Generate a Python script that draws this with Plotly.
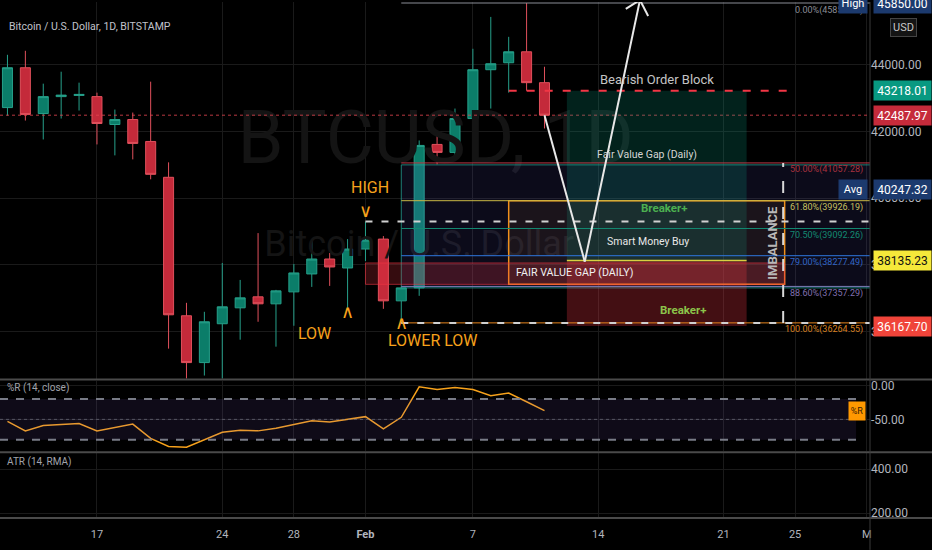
import pandas as pd
import plotly.graph_objects as go
from plotly.subplots import make_subplots

# ---------- datos ----------

fechas = pd.date_range("2022-01-12", "2022-02-11", freq="D")

aperturas = [42716, 43910, 42537, 43045, 43080, 43045, 42209, 42358, 41701, 40627,
             36478, 35075, 36239, 36716, 37045, 36836, 37194, 37731, 38179, 37910,
             38478, 38776, 36925, 37313, 41612, 41373, 42388, 43851, 44060, 44388,
             43463]
maximos = [44298, 44418, 43433, 43791, 43463, 43164, 42657, 42567, 43493, 41075,
           36866, 36597, 38060, 37552, 38955, 37254, 38030, 38746, 38358, 38776,
           39300, 38866, 37343, 41731, 41940, 42687, 44478, 45433, 44836, 45850,
           43940]
minimos = [42478, 42328, 41761, 42388, 42627, 41612, 41284, 41164, 40567, 35493,
           34050, 34687, 33000, 35761, 36298, 35552, 36179, 37343, 37373, 36716,
           38119, 36686, 36264.55, 37075, 41015, 41164, 41672, 42687, 43164, 43220,
           42090]
cierres = [43910, 42507, 43045, 43090, 43110, 42239, 42358, 41642, 40716, 36507,
           35075, 36298, 36746, 37015, 36836, 37224, 37761, 38179, 37940, 38478,
           38746, 36925, 37313, 41582, 41373, 42388, 43851, 44030, 44388, 43463,
           42487.97]

williams_r = [-53, -67, -59, -58, -56, -67, -62, -57, -78, -90, -91, -80, -69, -66, -67,
              -63, -57, -52, -54, -50, -46, -64, -47, -2, -6, -3, -6, -15, -11, -24, -37]

# fibonacci
fib_alto = 45850.00
fib_bajo = 36264.55
fib_ratios = [0, 0.5, 0.618, 0.705, 0.79, 0.886, 1.0]
fib_lineas = ["#8a8d96", "#c0394a", "#c9b845", "#138a72", "#2f78e0", "#7e7eb8", "#e8861d"]
fib_textos = ["#8a8d96", "#a8323f", "#c8c060", "#138a72", "#3066c8", "#8070b0", "#d88020"]

# niveles de la posicion / dibujos
precio_actual = 42487.97
bloque_bajista = 43218.01
entrada = 38135.23
stop = 36167.70
promedio = 40247.32
fvg_arriba = 38060
fvg_abajo = 37420
caja_fvg_arriba = 41000
caja_fvg_abajo = 37313
maximo_swing = 39300
minimo_inferior = 36264.55

flecha_x = ["2022-02-11", "2022-02-13 06:00", "2022-02-16 08:00"]
flecha_y = [precio_actual, 38100, 45940]
ala_izq = ("2022-02-15 13:00", 45672)
ala_der = ("2022-02-16 19:00", 45463)

ticks_fecha = ["2022-01-17", "2022-01-24", "2022-01-28", "2022-02-01", "2022-02-07",
               "2022-02-14", "2022-02-21", "2022-02-25", "2022-03-01"]
ticks_texto = ["17", "24", "28", "<b>Feb</b>", "7", "14", "21", "25", "M"]

rango_x = ["2022-01-11 14:00", "2022-03-01 04:25"]
FIN = "2022-03-06"

FUENTE = "Roboto, sans-serif"
GRIS = "#b2b5be"
ALTO = 518  # alto del area de dibujo en px


def py(px):
    return 1 - px / ALTO


# ---------- figura ----------

fig = make_subplots(rows=3, cols=1, shared_xaxes=True, vertical_spacing=0.0)

# marca de agua debajo de las velas
fig.add_trace(go.Scatter(x=["2022-02-04 22:00", "2022-02-04 00:00"], y=[41612, 38550],
                         mode="text", text=["BTCUSD, 1D", "Bitcoin / U.S. Dollar"],
                         textfont=dict(size=[74, 36], color="#141414", family=FUENTE),
                         hoverinfo="skip", showlegend=False), row=1, col=1)

fig.add_trace(go.Candlestick(x=fechas, open=aperturas, high=maximos, low=minimos, close=cierres,
                             increasing=dict(line=dict(color="#26a08a", width=1), fillcolor="#0b7d69"),
                             decreasing=dict(line=dict(color="#e0505c", width=1), fillcolor="#c42a3a"),
                             whiskerwidth=0, hoverinfo="skip", showlegend=False), row=1, col=1)

fig.add_trace(go.Scatter(x=fechas, y=williams_r, mode="lines",
                         line=dict(color="#f7a21b", width=1.5),
                         hoverinfo="skip", showlegend=False), row=2, col=1)

# panel ATR: la linea queda fuera de la escala visible, solo se dibuja el panel
fig.add_trace(go.Scatter(x=[fechas[0]], y=[None], mode="lines",
                         hoverinfo="skip", showlegend=False), row=3, col=1)

formas = []


def rect(x0, x1, y0, y1, relleno, borde=None, ancho=0, xref="x", yref="y"):
    formas.append(dict(type="rect", x0=x0, x1=x1, y0=y0, y1=y1, xref=xref, yref=yref,
                       fillcolor=relleno, layer="above",
                       line=dict(color=borde or "rgba(0,0,0,0)", width=ancho)))


def linea(x0, x1, y0, y1, color, ancho=1, dash="solid", xref="x", yref="y"):
    formas.append(dict(type="line", x0=x0, x1=x1, y0=y0, y1=y1, xref=xref, yref=yref,
                       layer="above", line=dict(color=color, width=ancho, dash=dash)))


# precio actual
linea(0, 1, precio_actual, precio_actual, "rgba(230,70,80,0.8)", 1, "dot", xref="paper")

# caja FVG diaria (fondo morado)
rect("2022-02-03", FIN, caja_fvg_abajo, caja_fvg_arriba, "rgba(95,90,210,0.12)",
     "rgba(38,166,154,0.75)", 1)

# posicion larga
rect("2022-02-12 06:00", "2022-02-22 07:00", entrada, bloque_bajista, "rgba(8,153,129,0.22)")
rect("2022-02-12 06:00", "2022-02-22 07:00", stop, entrada, "rgba(242,54,69,0.28)")

# breaker + fvg
rect("2022-02-09", "2022-02-24 10:00", fvg_abajo, fib_alto - 0.618 * (fib_alto - fib_bajo),
     "rgba(140,90,40,0.12)", "#f0901c", 1.5)
rect("2022-02-01", "2022-02-24 10:00", fvg_abajo, fvg_arriba, "rgba(242,54,69,0.22)",
     "rgba(242,54,69,0.6)", 1)
linea("2022-02-12 06:00", "2022-02-22 07:00", entrada, entrada, "#d8d040", 1.5)

# niveles fibonacci
for r, c in zip(fib_ratios, fib_lineas):
    nivel = fib_alto - r * (fib_alto - fib_bajo)
    linea("2022-02-03", FIN, nivel, nivel, c, 1)

linea("2022-02-09", "2022-02-24 21:00", bloque_bajista, bloque_bajista, "#f23645", 2, "8px,10px")
linea("2022-02-01", FIN, maximo_swing, maximo_swing, "#d0d0d0", 2, "7px,9px")
linea("2022-02-03", FIN, minimo_inferior, minimo_inferior, "#d0d0d0", 2, "7px,9px")
linea("2022-02-24 08:00", "2022-02-24 08:00", fib_bajo, fib_alto - 0.5 * (fib_alto - fib_bajo),
      "#d8d8d8", 2, "12px,14px")

# flecha
for i in range(len(flecha_x) - 1):
    linea(flecha_x[i], flecha_x[i + 1], flecha_y[i], flecha_y[i + 1], "#e8e8e8", 2)
linea(ala_izq[0], flecha_x[-1], ala_izq[1], flecha_y[-1], "#e8e8e8", 2)
linea(ala_der[0], flecha_x[-1], ala_der[1], flecha_y[-1], "#e8e8e8", 2)

# %R: banda y niveles
rect(0, 0.984, -80, -20, "rgba(126,87,194,0.12)", xref="paper", yref="y2")
linea(0, 0.984, -20, -20, "#787b86", 2, "8px,8px", xref="paper", yref="y2")
linea(0, 0.984, -80, -80, "#787b86", 2, "8px,8px", xref="paper", yref="y2")
linea(0, 0.984, -50, -50, "rgba(120,123,134,0.6)", 1, "dot", xref="paper", yref="y2")

# separadores de paneles
for yp in [py(379), py(452), 0]:
    formas.append(dict(type="line", xref="paper", yref="paper", x0=0, x1=932 / 870,
                       y0=yp, y1=yp, line=dict(color="#4a4a4a", width=2)))
formas.append(dict(type="line", xref="paper", yref="paper", x0=1, x1=1, y0=-32 / ALTO, y1=1,
                   line=dict(color="#3a3a3a", width=1)))

anotaciones = []


def texto(x, y, t, color, size, **kw):
    d = dict(x=x, y=y, xref="x", yref="y", text=t, showarrow=False,
             font=dict(color=color, size=size, family=FUENTE))
    d.update(kw)
    anotaciones.append(d)


def etiqueta_eje(y, t, fondo, color="#ffffff", yref="y"):
    anotaciones.append(dict(x=873 / 870, xref="paper", xanchor="left", y=y, yref=yref,
                            text=t, showarrow=False, bgcolor=fondo, width=53, height=15,
                            borderpad=2, font=dict(color=color, size=12, family=FUENTE)))


texto("2022-02-17 07:00", 43560, "Bearish Order Block", "#c4c4c4", 13)
texto("2022-02-16 17:00", 41320, "Fair Value Gap (Daily)", "#d4d4d4", 10.5)
texto("2022-02-17 17:00", 39700, "<b>Breaker+</b>", "#4caf50", 11.5)
texto("2022-02-16 19:00", 38690, "Smart Money Buy", "#e8e8e8", 10.5)
texto("2022-02-12 17:00", 37760, "FAIR VALUE GAP (DAILY)", "#f0f0f0", 10.7)
texto("2022-02-18 18:00", 36660, "<b>Breaker+</b>", "#8bc34a", 11.5)
texto("2022-02-23 18:00", 38660, "<b>IMBALANCE</b>", "#b8b8b8", 13, textangle=-90)
texto("2022-02-01 06:00", 40330, "HIGH", "#f7a21b", 16)
texto("2022-02-01", 39640, "∨", "#f7a21b", 18)
texto("2022-01-29 04:00", 35940, "LOW", "#f7a21b", 16)
texto("2022-01-31", 36600, "∧", "#f7a21b", 18)
texto("2022-02-04 18:00", 35730, "LOWER LOW", "#f7a21b", 16)
texto("2022-02-03", 36280, "∧", "#f7a21b", 18)

for r, c in zip(fib_ratios, fib_textos):
    nivel = fib_alto - r * (fib_alto - fib_bajo)
    anotaciones.append(dict(x=865 / 870, xref="paper", xanchor="right", y=nivel, yref="y",
                            yshift=-7, text=f"{r * 100:.2f}%({nivel:.2f})", showarrow=False,
                            font=dict(color=c, size=9, family=FUENTE)))

# etiquetas del eje de precios
etiqueta_eje(fib_alto, "45850.00", "#1c3a6e")
etiqueta_eje(bloque_bajista, "43218.01", "#089981")
etiqueta_eje(precio_actual, "42487.97", "#c62b3b")
etiqueta_eje(promedio, "40247.32", "#1c3a6e")
etiqueta_eje(entrada, "38135.23", "#f5e83a", "#111111")
etiqueta_eje(stop, "36167.70", "#f0443a")

for y, t in [(fib_alto, "High"), (promedio, "Avg")]:
    anotaciones.append(dict(x=868 / 870, xref="paper", xanchor="right", y=y, yref="y",
                            text=t, showarrow=False, bgcolor="#1c3a6e", width=24, height=15,
                            borderpad=2, font=dict(color="#ffffff", size=11, family=FUENTE)))

anotaciones.append(dict(x=890 / 870, xref="paper", xanchor="left", y=py(16), yref="paper",
                        text="USD", showarrow=False, bgcolor="#141414", bordercolor="#444444",
                        borderwidth=1, borderpad=2, font=dict(color="#c8c8c8", size=11, family=FUENTE)))

anotaciones.append(dict(x=848 / 870, xref="paper", xanchor="left", y=williams_r[-1], yref="y2",
                        text="%R", showarrow=False, bgcolor="#ff9800", width=14, height=16,
                        font=dict(color="#3a2000", size=9, family=FUENTE)))

anotaciones.append(dict(x=7 / 870, xref="paper", xanchor="left", y=py(16), yref="paper",
                        text="Bitcoin / U.S. Dollar, 1D, BITSTAMP", showarrow=False,
                        font=dict(color="#c0c3cb", size=10.5, family=FUENTE)))
anotaciones.append(dict(x=5 / 870, xref="paper", xanchor="left", y=py(396), yref="paper",
                        text="%R (14, close)", showarrow=False,
                        font=dict(color="#a0a3ab", size=10, family=FUENTE)))
anotaciones.append(dict(x=5 / 870, xref="paper", xanchor="left", y=py(470), yref="paper",
                        text="ATR (14, RMA)", showarrow=False,
                        font=dict(color="#a0a3ab", size=10, family=FUENTE)))

fig.update_xaxes(type="date", range=rango_x, tickvals=ticks_fecha, ticktext=ticks_texto,
                 showgrid=True, gridcolor="#1a1a1a", zeroline=False, showline=False,
                 rangeslider_visible=False, ticks="", ticklabelstandoff=8,
                 tickfont=dict(color=GRIS, size=11, family=FUENTE))

eje_y = dict(side="right", showgrid=True, gridcolor="#1a1a1a", zeroline=False,
             showline=False, ticks="", tickfont=dict(color=GRIS, size=12, family=FUENTE))

fig.update_layout(
    width=932, height=550,
    margin=dict(l=0, r=62, t=0, b=32),
    paper_bgcolor="#000000", plot_bgcolor="#000000",
    showlegend=False, boxgap=0.2,
    shapes=formas, annotations=anotaciones,
    yaxis=dict(eje_y, domain=[py(378), 1], range=[34597, 45880],
               tickvals=[36000, 38000, 40000, 42000, 44000], tickformat=".2f"),
    yaxis2=dict(eje_y, domain=[py(451), py(380)], range=[-97.1, 7.35],
                tickvals=[0, -50], ticktext=["0.00", "-50.00"]),
    yaxis3=dict(eje_y, domain=[0, py(453)], range=[177.3, 472.7],
                tickvals=[200, 400], ticktext=["200.00", "400.00"]),
)

# sin el margen del body la figura queda en (0, 0)
fig.write_html("out.html", config={"displayModeBar": False},
               post_script="document.body.style.margin='0';")
